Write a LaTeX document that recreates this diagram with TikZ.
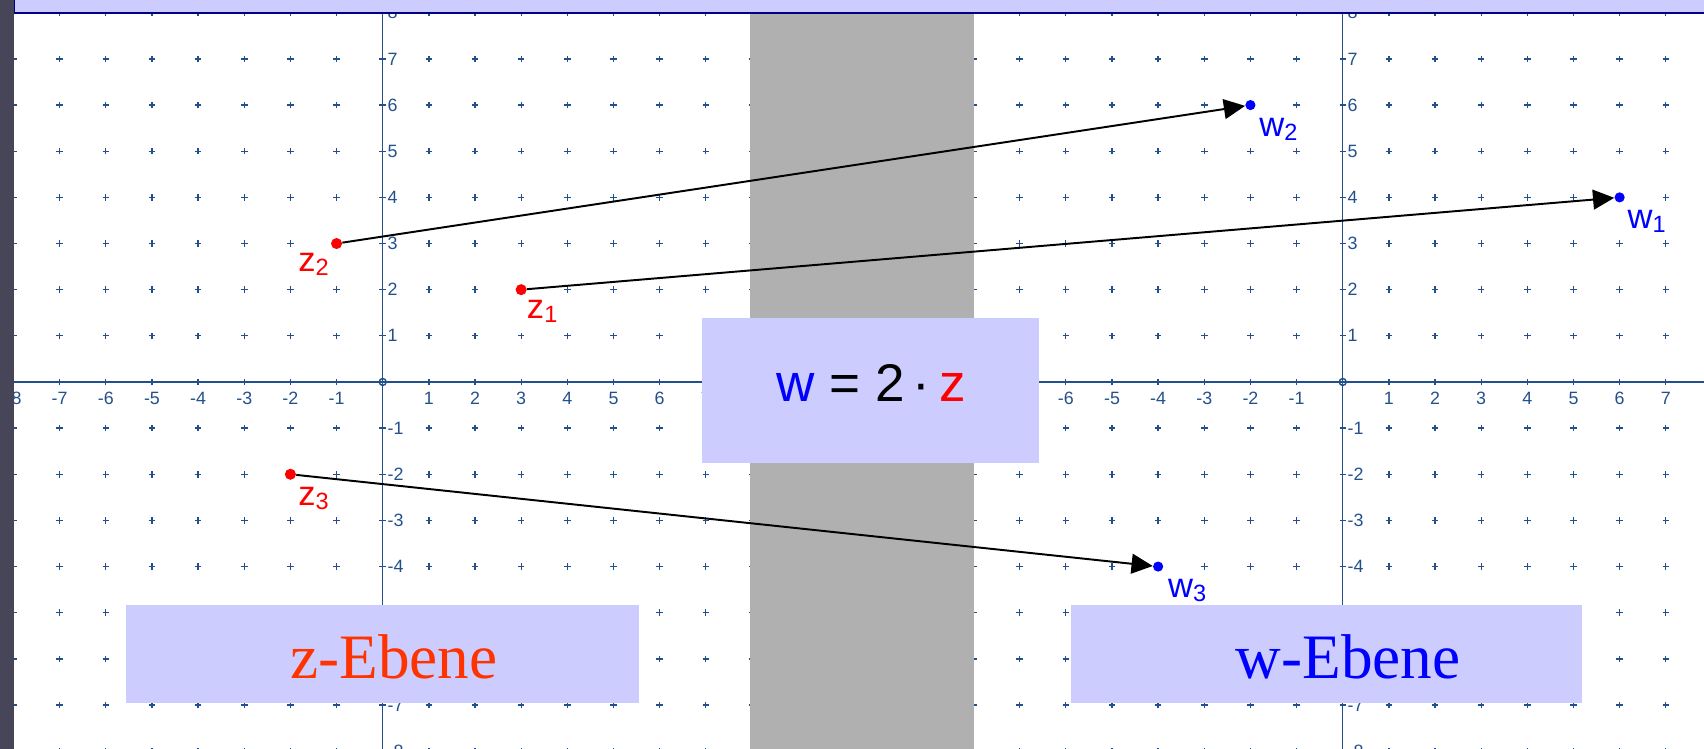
\documentclass[tikz,border=0pt]{standalone}
\usepackage{fontspec}
\setmainfont{Liberation Serif}
\setsansfont{Liberation Sans}
\usetikzlibrary{arrows.meta}
\definecolor{achsblau}{RGB}{35,80,140}
\definecolor{bandgrau}{RGB}{176,176,176}
\definecolor{kastenblau}{RGB}{204,204,255}
\definecolor{randblau}{RGB}{0,0,128}
\definecolor{leiste}{RGB}{70,70,88}
\definecolor{ebenerot}{RGB}{255,51,0}
\newcommand{\sublab}[2]{#1\raisebox{-2.5pt}{\fontsize{14.5}{15}\selectfont #2}}
\tikzset{
  gitter/.style={achsblau, line width=0.8pt},
  achse/.style={achsblau, line width=0.9pt},
  zahl/.style={achsblau, font=\sffamily\fontsize{11}{12}\selectfont, inner sep=0pt},
  kasten/.style={fill=kastenblau, inner sep=0pt},
  zpunkt/.style={circle, fill=red, inner sep=0pt, minimum size=0.24cm},
  wpunkt/.style={circle, fill=blue, inner sep=0pt, minimum size=0.22cm},
  punktlab/.style={font=\sffamily\fontsize{21.3}{22}\selectfont, inner sep=0pt},
  ebenetext/.style={font=\fontsize{39}{40}\selectfont, anchor=base, inner sep=0pt}
}
\begin{document}
\begin{tikzpicture}[>={Triangle[length=0.46cm,width=0.43cm]}]
\clip (-8.293,-7.952) rectangle (28.630,8.277);
\foreach \ox/\p in {0/z,20.802/w} {
  \begin{scope}[shift={(\ox,0)}]
  \foreach \x in {-8,...,8}
    \foreach \y in {-8,...,8}
      \draw[gitter] (\x-0.07,\y) -- (\x+0.07,\y) (\x,\y-0.07) -- (\x,\y+0.07);
  \draw[achse] (-9,0) -- (9,0) (0,-8.5) -- (0,8.5);
  \draw[achse] (0,0) circle (0.075);
  \foreach \n in {-8,...,-1,1,2,...,7}
    \node[zahl] (\p x\n) at (\n,-0.35) {\n};
  \foreach \n in {-8,...,-1,1,2,...,8}
    \node[zahl, anchor=west] (\p y\n) at (0.1,\n) {\n};
  \end{scope}
}
\fill[bandgrau] (7.965,-8.5) rectangle (12.806,8.5);

\node[kasten, minimum width=7.302cm, minimum height=3.142cm] (formel) at (10.57,-0.184) {};
\node[font=\sffamily\fontsize{32.7}{34}\selectfont, inner sep=0pt] (formeltext) at (10.585,-0.011)
  {{\color{blue}w} = 2\hspace{0.15em}·\hspace{0.17em}{\color{red}z}};

\node[kasten, minimum width=11.115cm, minimum height=2.117cm] (zebene) at (-0.005,-5.891) {};
\node[ebenetext, ebenerot] (zebenetext) at (0.245,-6.42) {z-Ebene};
\node[kasten, minimum width=11.083cm, minimum height=2.117cm] (webene) at (20.446,-5.891) {};
\node[ebenetext, blue] (webenetext) at (20.917,-6.42) {w-Ebene};

\node[zpunkt] (z1) at (3,2) {};
\node[zpunkt] (z2) at (-1,3) {};
\node[zpunkt] (z3) at (-2,-2) {};
\node[wpunkt] (w1) at (26.802,4) {};
\node[wpunkt] (w2) at (18.802,6) {};
\node[wpunkt] (w3) at (16.802,-4) {};

\node[punktlab, red] (z1lab) at ([shift={(0.455,-0.477)}]z1.center) {\sublab{z}{1}};
\node[punktlab, red] (z2lab) at ([shift={(-0.5,-0.455)}]z2.center) {\sublab{z}{2}};
\node[punktlab, red] (z3lab) at ([shift={(0.5,-0.52)}]z3.center) {\sublab{z}{3}};
\node[punktlab, blue] (w1lab) at ([shift={(0.585,-0.52)}]w1.center) {\sublab{w}{1}};
\node[punktlab, blue] (w2lab) at ([shift={(0.607,-0.52)}]w2.center) {\sublab{w}{2}};
\node[punktlab, blue] (w3lab) at ([shift={(0.63,-0.52)}]w3.center) {\sublab{w}{3}};

\draw[->, line width=1.2pt] (z1) -- (w1);
\draw[->, line width=1.2pt] (z2) -- (w2);
\draw[->, line width=1.2pt] (z3) -- (w3);

\fill[kastenblau] (-7.99,8.0) rectangle (28.7,8.4);
\draw[randblau, line width=1.2pt] (-7.99,8.4) -- (-7.99,8.0) -- (28.7,8.0);
\fill[leiste] (-8.4,-8.1) rectangle (-7.99,8.4);
\end{tikzpicture}
\end{document}
